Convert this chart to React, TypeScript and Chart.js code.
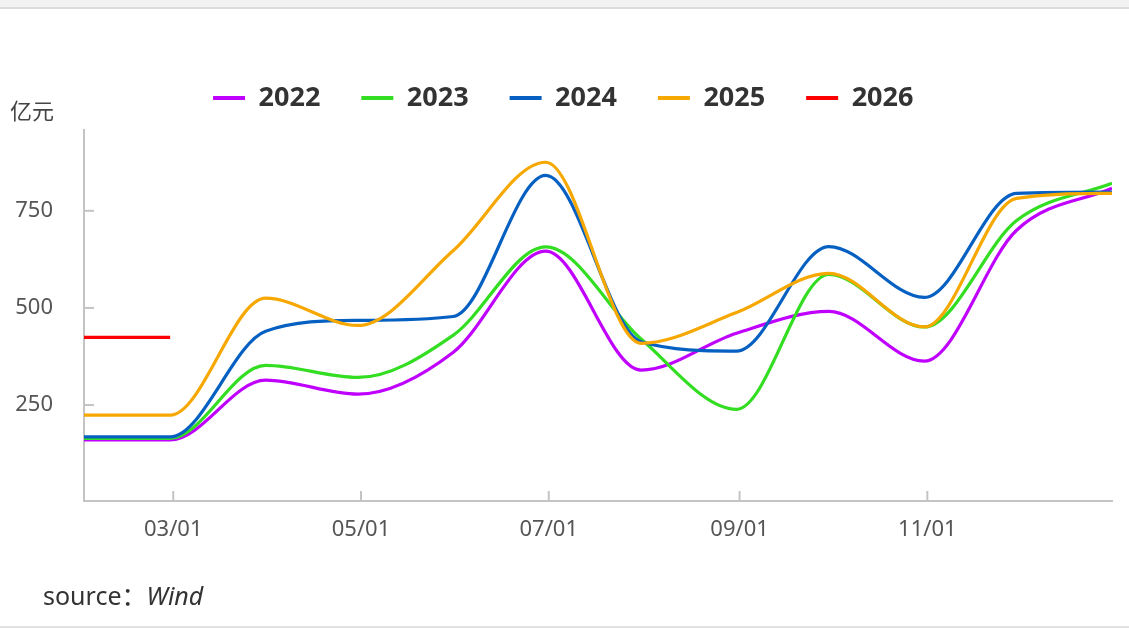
import React, { useEffect, useRef } from 'react';
import { Chart, registerables } from 'chart.js';

Chart.register(...registerables);

// ---- data ----
const seriesNames = ['2022', '2023', '2024', '2025', '2026'];
const seriesColors = ['#c000ff', '#33dd22', '#0560c2', '#f7a800', '#ff0000'];
// month-end dates as day-of-year (0-based): Jan31 ... Dec31
const monthEndDays = [30, 58, 89, 119, 150, 180, 211, 242, 272, 303, 333, 364];
const values2022 = [160, 160, 314, 278, 386, 646, 340, 435, 491, 363, 700, 808];
const values2023 = [164, 164, 352, 321, 430, 657, 420, 239, 586, 451, 725, 821];
const values2024 = [168, 168, 440, 468, 478, 841, 413, 389, 658, 527, 795, 798];
const values2025 = [224, 224, 525, 455, 648, 875, 409, 488, 589, 451, 782, 795];
const values2026 = [424, 424];
const seriesValues = [values2022, values2023, values2024, values2025, values2026];
const xTickDays = [59, 120, 181, 243, 304];
const xTickLabels = ['03/01', '05/01', '07/01', '09/01', '11/01'];
const yTickValues = [250, 500, 750];
const yUnit = '亿元';
const sourceLabel = 'source：';
const sourceName = 'Wind';

const AXIS_COLOR = '#c4c4c4';

const decorPlugin = {
  id: 'decor',
  afterDraw(chart: any) {
    const { ctx, chartArea, scales } = chart;
    ctx.save();
    ctx.strokeStyle = AXIS_COLOR;
    ctx.lineWidth = 2;
    for (const v of yTickValues) {
      const y = scales.y.getPixelForValue(v);
      ctx.beginPath();
      ctx.moveTo(chartArea.left, y);
      ctx.lineTo(chartArea.left + 10, y);
      ctx.stroke();
    }
    for (const d of xTickDays) {
      const x = scales.x.getPixelForValue(d);
      ctx.beginPath();
      ctx.moveTo(x, chartArea.bottom);
      ctx.lineTo(x, chartArea.bottom - 10);
      ctx.stroke();
    }
    ctx.textAlign = 'left';
    ctx.textBaseline = 'alphabetic';
    ctx.fillStyle = '#444';
    ctx.font = '22px "Noto Sans CJK SC"';
    ctx.fillText(yUnit, 10, 119);
    ctx.fillStyle = '#333';
    ctx.font = '25px "Noto Sans", "Noto Sans CJK SC"';
    ctx.fillText(sourceLabel, 43, 605);
    const w = ctx.measureText(sourceLabel).width;
    ctx.font = 'italic 25px "Noto Sans"';
    ctx.fillText(sourceName, 43 + w, 605);
    ctx.restore();
  },
};

export default function App() {
  const canvasRef = useRef<HTMLCanvasElement | null>(null);

  useEffect(() => {
    document.body.style.margin = '0';
    const canvas = canvasRef.current;
    if (!canvas) return;
    const datasets = seriesNames.map((name, i) => ({
      label: name,
      data: seriesValues[i].map((v, j) => ({ x: monthEndDays[j], y: v })),
      borderColor: seriesColors[i],
      backgroundColor: seriesColors[i],
      borderWidth: 3.2,
      pointRadius: 0,
      pointHoverRadius: 0,
      cubicInterpolationMode: 'monotone' as const,
      fill: false,
      order: seriesNames.length - i,
    }));
    const tickFont = { family: '"Noto Sans", sans-serif', size: 22 };
    const chart = new Chart(canvas, {
      type: 'line',
      data: { datasets },
      options: {
        animation: false,
        responsive: true,
        maintainAspectRatio: false,
        layout: { padding: { top: 43.5, left: 14.5, right: 17, bottom: 0 } },
        plugins: {
          tooltip: { enabled: false },
          title: {
            display: true,
            text: ' ',
            position: 'top',
            weight: 500,
            font: { size: 1, lineHeight: 1 },
            padding: { top: 0, bottom: 7.5 },
          } as any,
          legend: {
            display: true,
            position: 'top',
            align: 'center',
            labels: {
              boxWidth: 32,
              boxHeight: 4,
              padding: 41,
              color: '#333',
              font: { family: '"Noto Sans", sans-serif', size: 27, weight: 'bold' },
              generateLabels: (c: any) =>
                c.data.datasets.map((ds: any, i: number) => ({
                  text: ds.label,
                  fillStyle: ds.borderColor,
                  strokeStyle: ds.borderColor,
                  lineWidth: 0,
                  hidden: false,
                  datasetIndex: i,
                  fontColor: '#333',
                })),
            },
          },
        },
        scales: {
          x: {
            type: 'linear',
            min: monthEndDays[0],
            max: monthEndDays[monthEndDays.length - 1],
            grid: { display: false, drawTicks: false },
            border: { display: true, color: AXIS_COLOR, width: 2 },
            ticks: {
              autoSkip: false,
              maxRotation: 0,
              padding: 16,
              color: '#555',
              font: tickFont,
              callback: (value: any) => {
                const i = xTickDays.indexOf(Number(value));
                return i >= 0 ? xTickLabels[i] : '';
              },
            },
            afterBuildTicks: (s: any) => {
              s.ticks = xTickDays.map((v) => ({ value: v }));
            },
            afterFit: (s: any) => {
              s.height = 127;
            },
          },
          y: {
            type: 'linear',
            min: 3,
            max: 958,
            grid: { display: false, drawTicks: false },
            border: { display: true, color: AXIS_COLOR, width: 2 },
            ticks: {
              padding: 31,
              color: '#555',
              font: tickFont,
            },
            afterBuildTicks: (s: any) => {
              s.ticks = yTickValues.map((v) => ({ value: v }));
            },
            afterFit: (s: any) => {
              s.width = 69.5;
            },
          },
        },
      },
      plugins: [decorPlugin],
    });
    return () => chart.destroy();
  }, []);

  return (
    <div style={{ position: 'relative', width: 1129, height: 628, background: '#fff', overflow: 'hidden' }}>
      <div style={{ position: 'absolute', left: 0, top: 0, width: 1129, height: 7, background: '#f2f2f2' }} />
      <div style={{ position: 'absolute', left: 0, top: 7, width: 1129, height: 2, background: '#dcdcdc' }} />
      <div style={{ position: 'absolute', left: 0, top: 626, width: 1129, height: 2, background: '#e2e2e2' }} />
      <div style={{ position: 'absolute', left: 0, top: 0, width: 1129, height: 628 }}>
        <canvas ref={canvasRef} />
      </div>
    </div>
  );
}
